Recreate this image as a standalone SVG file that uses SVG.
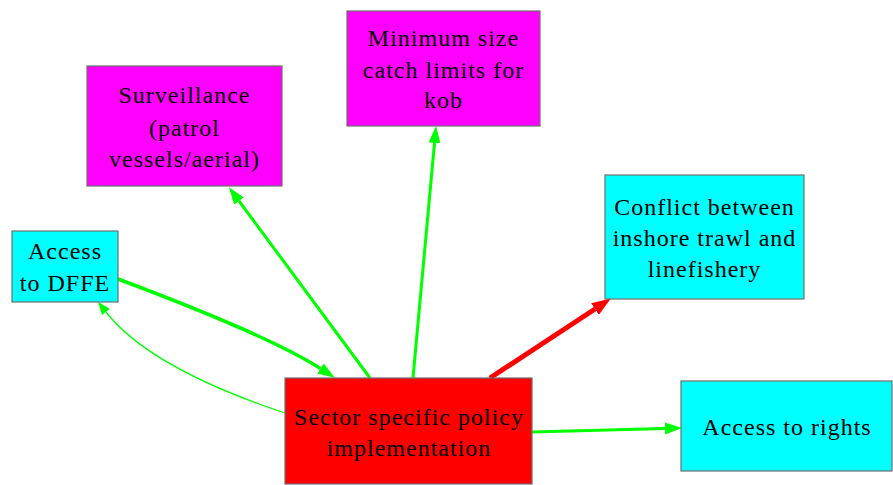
<svg xmlns="http://www.w3.org/2000/svg" width="893" height="485" viewBox="0 0 893 485">
  <style>
    .node rect { stroke: #6e6e6e; stroke-width: 1.2; }
    .cyan { fill: #00ffff; }
    .magenta { fill: #ff00ff; }
    .red { fill: #ff0000; }
    text { font-family: "Liberation Serif", "Times New Roman", serif; font-size: 24px; letter-spacing: 1px; text-anchor: middle; fill: #000; }
    .edge { fill: none; stroke-linecap: butt; }
    .g { stroke: #00ff00; }
    .r { stroke: #ff0000; }
  </style>
  <defs>
    <marker id="arrG" markerUnits="userSpaceOnUse" markerWidth="18" markerHeight="12" refX="0" refY="6" orient="auto">
      <path d="M0,0 L17,6 L0,12 z" fill="#00ff00"/>
    </marker>
    <marker id="arrGs" markerUnits="userSpaceOnUse" markerWidth="14" markerHeight="10" refX="0" refY="5" orient="auto">
      <path d="M0,0 L13,5 L0,10 z" fill="#00ff00"/>
    </marker>
    <marker id="arrR" markerUnits="userSpaceOnUse" markerWidth="20" markerHeight="14" refX="0" refY="7" orient="auto">
      <path d="M0,0 L19,7 L0,14 z" fill="#ff0000"/>
    </marker>
  </defs>

  <g id="connectors">
    <!-- policy -> surveillance -->
    <path class="edge g" stroke-width="3" d="M370,378 L239,201" marker-end="url(#arrG)"/>
    <!-- policy -> minimum size limits -->
    <path class="edge g" stroke-width="3" d="M413,378 L434.5,143" marker-end="url(#arrG)"/>
    <!-- policy -> conflict -->
    <path class="edge r" stroke-width="5" d="M490,378 L595,309" marker-end="url(#arrR)"/>
    <!-- policy -> access to rights -->
    <path class="edge g" stroke-width="3" d="M532,432 L665,428.5" marker-end="url(#arrG)"/>
    <!-- DFFE -> policy -->
    <path class="edge g" stroke-width="3.5" d="M118,279 Q270,336 320.5,368.5" marker-end="url(#arrG)"/>
    <!-- policy -> DFFE -->
    <path class="edge g" stroke-width="1.3" d="M285,413 Q150,368 106,312" marker-end="url(#arrGs)"/>
  </g>

  <g id="n-dffe" class="node">
    <rect class="cyan" x="12" y="231" width="106" height="71"/>
    <text x="65" y="259">Access</text>
    <text x="65" y="291">to DFFE</text>
  </g>

  <g id="n-surveillance" class="node">
    <rect class="magenta" x="87" y="66" width="195" height="120"/>
    <text x="184.5" y="103">Surveillance</text>
    <text x="184.5" y="136">(patrol</text>
    <text x="184.5" y="167">vessels/aerial)</text>
  </g>

  <g id="n-minsize" class="node">
    <rect class="magenta" x="347" y="11" width="193" height="115"/>
    <text x="443.5" y="46">Minimum size</text>
    <text x="443.5" y="78">catch limits for</text>
    <text x="443.5" y="108">kob</text>
  </g>

  <g id="n-conflict" class="node">
    <rect class="cyan" x="605" y="175" width="199" height="124"/>
    <text x="704.5" y="215">Conflict between</text>
    <text x="704.5" y="246">inshore trawl and</text>
    <text x="704.5" y="277">linefishery</text>
  </g>

  <g id="n-rights" class="node">
    <rect class="cyan" x="681" y="381" width="211" height="90"/>
    <text x="787" y="435">Access to rights</text>
  </g>

  <g id="n-policy" class="node">
    <rect class="red" x="285" y="378" width="247" height="106"/>
    <text x="409" y="425">Sector specific policy</text>
    <text x="409" y="456">implementation</text>
  </g>
</svg>
